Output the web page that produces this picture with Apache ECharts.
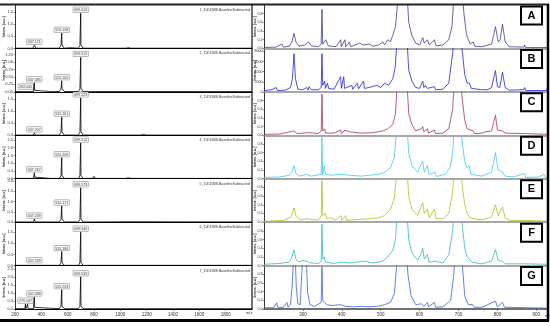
<!DOCTYPE html>
<html><head><meta charset="utf-8">
<script src="https://cdn.jsdelivr.net/npm/echarts@6/dist/echarts.min.js"></script>
<style>html,body{margin:0;padding:0;background:#fff}#c{width:550px;height:326px}</style>
</head><body><div id="c"></div>
<script>
// ---------- LEFT: seven MALDI spectra (m/z vs intensity) ----------
const leftSpec1 = [[200,0.01],[270,0.01],[282,0.04],[290,0.01],[335,0.01],[343,0.08],[347,0.13],[351,0.08],[359,0.01],[470,0.01],[480,0.03],[490,0.01],[537,0.01],[549,0.12],[553,0.15],[555,0.63],[557,0.15],[561,0.12],[573,0.01],[620,0.03],[630,0.01],[681,0.01],[693,0.12],[697,0.15],[699,1.46],[701,0.15],[705,0.12],[717,0.01],[790,0.01],[800,0.06],[810,0.01],[1040,0.01],[1060,0.03],[1080,0.01],[2000,0.01]];
const leftSpec2 = [[200,0.01],[275,0.01],[282,0.06],[289,0.01],[340,0.01],[345,0.05],[347,0.3],[349,0.05],[354,0.01],[470,0.01],[480,0.02],[490,0.01],[537,0.01],[549,0.09],[553,0.12],[555,0.37],[557,0.12],[561,0.09],[573,0.01],[681,0.01],[693,0.09],[697,0.12],[699,1.15],[701,0.12],[705,0.09],[717,0.01],[780,0.01],[790,0.04],[800,0.01],[2000,0.01]];
const leftSpec3 = [[200,0.01],[270,0.01],[282,0.03],[290,0.01],[340,0.01],[345,0.05],[347,0.1],[349,0.05],[354,0.01],[537,0.01],[549,0.12],[553,0.15],[555,0.75],[557,0.15],[561,0.12],[573,0.01],[681,0.01],[693,0.12],[697,0.15],[699,1.55],[701,0.15],[705,0.12],[717,0.01],[790,0.01],[800,0.04],[810,0.01],[1150,0.01],[1180,0.03],[1200,0.01],[2000,0.01]];
const leftSpec4 = [[200,0.02],[270,0.02],[282,0.12],[290,0.02],[340,0.02],[344,0.1],[347,0.38],[350,0.1],[354,0.02],[470,0.02],[480,0.05],[490,0.02],[537,0.02],[549,0.18],[553,0.22],[555,1.35],[557,0.22],[561,0.18],[573,0.02],[681,0.02],[693,0.18],[697,0.22],[699,2.3],[701,0.22],[705,0.18],[717,0.02],[790,0.02],[800,0.15],[810,0.02],[1040,0.02],[1060,0.06],[1080,0.02],[2000,0.02]];
const leftSpec5 = [[200,0.01],[270,0.01],[282,0.04],[290,0.01],[340,0.01],[345,0.06],[347,0.15],[349,0.06],[354,0.01],[470,0.01],[480,0.03],[490,0.01],[537,0.01],[549,0.13],[553,0.16],[555,0.78],[557,0.16],[561,0.13],[573,0.01],[681,0.01],[693,0.13],[697,0.16],[699,1.66],[701,0.16],[705,0.13],[717,0.01],[790,0.01],[800,0.05],[810,0.01],[1060,0.02],[2000,0.01]];
const leftSpec6 = [[200,0.01],[270,0.01],[282,0.03],[290,0.01],[340,0.01],[345,0.04],[347,0.08],[349,0.04],[354,0.01],[537,0.01],[549,0.12],[553,0.15],[555,0.63],[557,0.15],[561,0.12],[573,0.01],[681,0.01],[693,0.12],[697,0.15],[699,1.5],[701,0.15],[705,0.12],[717,0.01],[790,0.01],[800,0.04],[810,0.01],[2000,0.01]];
const leftSpec7 = [[200,0.02],[276,0.02],[279,0.3],[282,0.02],[292,0.02],[296,0.3],[299,0.02],[340,0.02],[345,0.1],[347,0.75],[349,0.1],[354,0.02],[537,0.02],[549,0.17],[553,0.2],[555,1.2],[557,0.2],[561,0.17],[573,0.02],[681,0.02],[693,0.17],[697,0.2],[699,2.0],[701,0.2],[705,0.17],[717,0.02],[790,0.02],[800,0.07],[810,0.02],[2000,0.02]];
const leftSpectra = [leftSpec1,leftSpec2,leftSpec3,leftSpec4,leftSpec5,leftSpec6,leftSpec7];

const leftPeaks1 = [[347,0.13,'347.171'],[555,0.63,'555.158'],[699,1.46,'699.514']];
const leftPeaks2 = [[282,0.06,'282.045'],[347,0.3,'347.085'],[555,0.37,'555.165'],[699,1.15,'699.512']];
const leftPeaks3 = [[347,0.1,'347.207'],[555,0.75,'555.161'],[699,1.55,'699.523']];
const leftPeaks4 = [[347,0.38,'347.267'],[555,1.35,'555.209'],[699,2.3,'699.512']];
const leftPeaks5 = [[347,0.15,'347.209'],[555,0.78,'555.177'],[699,1.66,'699.573']];
const leftPeaks6 = [[347,0.08,'347.269'],[555,0.63,'555.186'],[699,1.5,'699.540']];
const leftPeaks7 = [[279,0.3,'279.147'],[347,0.75,'347.088'],[555,1.2,'555.203'],[699,2.0,'699.533']];
const leftPeaks = [leftPeaks1,leftPeaks2,leftPeaks3,leftPeaks4,leftPeaks5,leftPeaks6,leftPeaks7];

const leftYMax = [1.8,1.45,1.8,2.8,2.1,1.95,2.7];
const leftYInterval = [0.5,0.25,0.5,0.5,0.5,0.5,0.5];
const leftTitles = ['1_1\\4\\1\\MS.BaselineSubtracted','2_1\\4\\1\\MS.BaselineSubtracted','3_1\\4\\1\\MS.BaselineSubtracted','4_1\\4\\1\\MS.BaselineSubtracted','5_1\\4\\1\\MS.BaselineSubtracted','6_1\\4\\1\\MS.BaselineSubtracted','7_1\\4\\1\\MS.BaselineSubtracted'];
const leftXMin = 200, leftXMax = 2000, leftXInterval = 200;

// ---------- RIGHT: zoomed spectra A-G ----------
const rightSpecA = [[200,0.02],[230,0.03],[246,0.1],[250,0.03],[265,0.05],[272,0.15],[277,0.35],[282,0.15],[290,0.05],[305,0.08],[315,0.15],[322,0.06],[340,0.04],[347,0.1],[349,0.9],[351,0.1],[359,0.2],[365,0.06],[385,0.04],[397,0.2],[399,0.04],[408,0.2],[410,0.04],[420,0.15],[422,0.04],[440,0.1],[446,0.12],[455,0.08],[470,0.1],[480,0.05],[495,0.08],[505,0.15],[510,0.08],[518,0.2],[525,0.15],[531,0.3],[538,0.5],[545,1.2],[549,1.5],[556,1.3],[562,1.5],[567,1.4],[572,0.6],[580,0.3],[590,0.12],[600,0.08],[608,0.25],[612,0.12],[620,0.2],[625,0.08],[638,0.2],[642,0.06],[660,0.08],[675,0.2],[683,0.5],[690,1.4],[695,1.5],[701,1.3],[708,1.5],[714,0.8],[720,0.35],[723,0.25],[730,0.1],[738,0.15],[742,0.05],[760,0.04],[785,0.1],[795,0.5],[802,0.15],[807,0.2],[813,0.56],[820,0.15],[830,0.04],[868,0.03],[870,0.08],[872,0.02],[930,0.02]];
const rightSpecB = [[200,260],[220,430],[231,860],[235,260],[255,340],[268,860],[273,2580],[277,7570],[281,2580],[287,520],[300,430],[310,860],[313,340],[316,1030],[322,430],[340,430],[347,860],[349,7570],[351,1290],[356,2150],[358,690],[363,1720],[366,690],[380,520],[397,3010],[399,690],[405,3010],[407,690],[426,1290],[428,520],[440,1720],[443,600],[456,2150],[458,690],[470,860],[490,1290],[500,860],[510,1720],[520,1290],[531,2580],[537,4730],[543,11180],[549,12900],[556,10300],[562,12900],[567,11180],[572,4300],[580,2150],[590,860],[600,690],[608,2150],[611,860],[615,1290],[620,690],[638,1030],[641,430],[660,520],[675,1720],[685,7740],[690,12000],[697,10300],[703,12900],[710,7740],[716,3440],[722,1720],[728,1720],[733,690],[760,430],[775,430],[785,860],[795,4210],[800,1030],[806,860],[813,3870],[820,860],[830,340],[868,430],[870,860],[873,260],[926,260],[928,690],[930,260]];
const rightSpecC = [[200,0.02],[240,0.03],[277,0.1],[285,0.04],[300,0.05],[315,0.06],[340,0.04],[347,0.1],[349,0.95],[351,0.1],[356,0.15],[358,0.05],[380,0.05],[397,0.12],[399,0.04],[408,0.12],[420,0.08],[450,0.05],[480,0.06],[505,0.1],[518,0.15],[531,0.25],[538,0.5],[543,1.3],[549,1.5],[556,1.3],[562,1.5],[567,1.3],[572,0.5],[580,0.25],[590,0.1],[605,0.15],[608,0.2],[611,0.08],[620,0.15],[623,0.05],[638,0.12],[641,0.04],[660,0.05],[675,0.15],[685,0.6],[690,1.4],[697,1.3],[703,1.5],[710,0.8],[716,0.35],[722,0.15],[738,0.1],[741,0.04],[760,0.05],[770,0.08],[785,0.1],[795,0.46],[800,0.12],[813,0.1],[820,0.05],[870,0.04],[930,0.02]];
const rightSpecD = [[200,0.03],[240,0.04],[265,0.08],[272,0.15],[277,0.3],[282,0.12],[290,0.06],[310,0.1],[320,0.06],[347,0.1],[349,0.95],[351,0.1],[355,0.3],[358,0.1],[375,0.08],[397,0.1],[420,0.08],[450,0.06],[470,0.08],[495,0.1],[510,0.15],[525,0.25],[535,0.5],[543,1.3],[549,1.5],[556,1.3],[562,1.5],[567,1.3],[572,0.6],[580,0.3],[595,0.15],[605,0.35],[608,0.4],[612,0.15],[620,0.3],[624,0.1],[640,0.15],[643,0.05],[665,0.1],[678,0.25],[685,0.6],[690,1.4],[697,1.3],[703,1.5],[710,0.8],[716,0.4],[722,0.25],[728,0.3],[732,0.1],[760,0.06],[785,0.15],[795,0.6],[802,0.2],[813,0.15],[820,0.06],[840,0.04],[870,0.12],[873,0.03],[905,0.04],[920,0.1],[923,0.03],[930,0.03]];
const rightSpecE = [[200,0.02],[250,0.04],[270,0.12],[277,0.33],[283,0.12],[295,0.05],[310,0.08],[320,0.06],[340,0.05],[347,0.15],[349,0.95],[351,0.15],[358,0.2],[362,0.08],[370,0.1],[385,0.05],[398,0.15],[400,0.04],[410,0.15],[412,0.04],[440,0.06],[470,0.08],[495,0.1],[510,0.15],[525,0.3],[535,0.55],[543,1.3],[549,1.5],[556,1.3],[562,1.5],[567,1.3],[572,0.6],[580,0.3],[595,0.15],[605,0.4],[608,0.45],[612,0.2],[620,0.3],[625,0.1],[638,0.3],[642,0.08],[660,0.08],[675,0.2],[685,0.7],[690,1.4],[697,1.3],[703,1.5],[710,0.8],[716,0.4],[722,0.2],[730,0.1],[760,0.05],[785,0.12],[795,0.4],[802,0.15],[806,0.12],[813,0.35],[820,0.1],[830,0.04],[870,0.04],[930,0.02]];
const rightSpecF = [[200,0.03],[240,0.05],[265,0.08],[272,0.2],[277,0.36],[282,0.15],[290,0.08],[300,0.12],[310,0.1],[320,0.06],[340,0.05],[347,0.1],[349,0.95],[351,0.15],[355,0.2],[358,0.08],[380,0.05],[397,0.08],[420,0.06],[440,0.08],[460,0.1],[480,0.06],[505,0.1],[518,0.2],[531,0.35],[538,0.6],[543,1.3],[549,1.5],[556,1.3],[562,1.5],[567,1.3],[572,0.6],[580,0.3],[595,0.12],[605,0.3],[608,0.4],[612,0.15],[620,0.25],[624,0.08],[640,0.1],[660,0.06],[675,0.25],[685,0.8],[690,1.4],[697,1.3],[703,1.5],[710,0.9],[716,0.4],[722,0.2],[735,0.08],[760,0.04],[785,0.1],[795,0.37],[802,0.12],[813,0.1],[820,0.04],[870,0.04],[930,0.03]];
const rightSpecG = [[200,0.03],[225,0.03],[233,0.14],[236,0.03],[250,0.04],[259,0.15],[262,0.04],[268,0.1],[273,0.6],[277,1.4],[280,1.3],[283,0.5],[287,0.12],[293,0.1],[297,0.8],[300,1.4],[304,1.2],[308,1.4],[312,0.4],[318,0.1],[330,0.06],[347,0.15],[349,0.97],[351,0.2],[356,0.15],[362,0.1],[375,0.08],[397,0.1],[410,0.06],[430,0.05],[450,0.06],[470,0.05],[490,0.06],[510,0.1],[525,0.15],[535,0.35],[543,1.2],[549,1.5],[556,1.3],[565,1.5],[570,0.8],[578,0.3],[590,0.1],[605,0.12],[608,0.15],[611,0.06],[620,0.15],[623,0.05],[638,0.15],[641,0.04],[660,0.05],[680,0.2],[688,0.8],[692,1.4],[705,1.5],[710,1.0],[716,0.3],[725,0.1],[736,0.1],[740,0.04],[760,0.04],[795,0.18],[800,0.05],[813,0.15],[818,0.04],[870,0.03],[930,0.02]];
const rightSpectra = [rightSpecA,rightSpecB,rightSpecC,rightSpecD,rightSpecE,rightSpecF,rightSpecG];
const rightLetters = ['A','B','C','D','E','F','G'];
const rightColors = ['#3d3d9c','#1f22e6','#a8325f','#3ccaf0','#a2c61e','#2fbdbd','#3462e8'];
const rightYMax = [1,8600,1,1,1,1,1];
const rightYInterval = [0.2,2000,0.2,0.2,0.2,0.2,0.2];
const rightXMin = 200, rightXMax = 930, rightXInterval = 100;

// ---------- layout ----------
const N = 7, TOP = 5, PH = 43.43;
const LL = 15, LW = 237, RL = 264, RW = 284;
const grids = [], xAxes = [], yAxes = [], series = [], graphics = [];
const tickFont = {fontSize: 4, color: '#333', fontFamily: 'Arial, Liberation Sans, sans-serif'};

for (let i = 0; i < N; i++) {
  const top = TOP + i * PH;
  const last = i === N - 1;
  // left
  grids.push({left: LL, top: top, width: LW, height: PH});
  xAxes.push({type: 'value', gridIndex: 2*i, min: leftXMin, max: leftXMax, interval: leftXInterval,
    axisLine: {show: true, lineStyle: {color: '#000', width: 1.2}},
    axisTick: {show: last, length: 2, lineStyle: {color: '#333', width: 0.5}},
    axisLabel: {show: last, ...tickFont, fontSize: 4.5, margin: 3, showMaxLabel: false, formatter: v => String(v)},
    splitLine: {show: false}});
  yAxes.push({type: 'value', gridIndex: 2*i, min: 0, max: leftYMax[i], interval: leftYInterval[i],
    axisLine: {show: true, lineStyle: {color: '#000', width: 0.8}},
    axisTick: {show: true, length: 1.5, lineStyle: {color: '#333', width: 0.5}},
    axisLabel: {...tickFont, margin: 2, showMaxLabel: false,
      formatter: v => leftYInterval[i] < 0.5 ? v.toFixed(2) : v.toFixed(1)},
    splitLine: {show: false}});
  series.push({type: 'line', xAxisIndex: 2*i, yAxisIndex: 2*i, data: leftSpectra[i], showSymbol: false,
    lineStyle: {color: '#000', width: 0.8}, silent: true, clip: true});
  series.push({type: 'scatter', xAxisIndex: 2*i, yAxisIndex: 2*i, data: leftPeaks[i], symbolSize: 0,
    label: {show: true, position: 'top', distance: 1, formatter: p => p.value[2],
      fontSize: 3.6, color: '#222', backgroundColor: '#f2f2f2', borderColor: '#777', borderWidth: 0.5, padding: [1, 1, 0, 1]},
    silent: true});
  graphics.push({type: 'text', right: 550 - 250, top: top + 3,
    style: {text: leftTitles[i], fontSize: 3.6, fill: '#333', fontFamily: 'Arial, sans-serif'}});
  graphics.push({type: 'text', x: 4, y: top + PH / 2, rotation: Math.PI / 2,
    style: {text: 'Intens. [a.u.]', fontSize: 3.5, fontWeight: 'bold', fill: '#333', align: 'center', verticalAlign: 'middle', fontFamily: 'Arial, sans-serif'}});

  // right
  grids.push({left: RL, top: top, width: RW, height: PH});
  xAxes.push({type: 'value', gridIndex: 2*i+1, min: rightXMin, max: rightXMax, interval: rightXInterval,
    axisLine: {show: true, lineStyle: {color: last ? '#444' : '#8a8a8a', width: 1.5}},
    axisTick: {show: last, length: 2, lineStyle: {color: '#333', width: 0.5}},
    axisLabel: {show: last, ...tickFont, fontSize: 4.5, margin: 3, showMaxLabel: false, showMinLabel: false, formatter: v => String(v)},
    splitLine: {show: false}});
  yAxes.push({type: 'value', gridIndex: 2*i+1, min: 0, max: rightYMax[i], interval: rightYInterval[i],
    axisLine: {show: true, lineStyle: {color: '#000', width: 0.8}},
    axisTick: {show: true, length: 1.5, lineStyle: {color: '#333', width: 0.5}},
    axisLabel: {...tickFont, fontSize: 3.6, margin: 1.5, showMaxLabel: false,
      formatter: v => rightYInterval[i] >= 1 ? String(v) : v.toFixed(1)},
    splitLine: {show: false}});
  series.push({type: 'line', xAxisIndex: 2*i+1, yAxisIndex: 2*i+1, data: rightSpectra[i], showSymbol: false,
    lineStyle: {color: rightColors[i], width: 0.8}, silent: true, clip: true});
  graphics.push({type: 'text', x: 255, y: top + PH / 2, rotation: Math.PI / 2,
    style: {text: 'Intens. [a.u.]', fontSize: 3.5, fontWeight: 'bold', fill: '#333', align: 'center', verticalAlign: 'middle', fontFamily: 'Arial, sans-serif'}});
  graphics.push({type: 'rect', shape: {x: 521, y: top + 1.5, width: 21, height: 18},
    style: {fill: '#fff', stroke: '#000', lineWidth: 2}, z: 100});
  graphics.push({type: 'text', x: 531.5, y: top + 10.5, z: 101,
    style: {text: rightLetters[i], fontSize: 11, fontWeight: 'bold', fill: '#000',
      fontFamily: 'Arial, Liberation Sans, sans-serif', align: 'center', verticalAlign: 'middle'}});
}
// frame lines
graphics.push({type: 'line', shape: {x1: 0, y1: 4.5, x2: 549, y2: 4.5}, style: {stroke: '#222', lineWidth: 2}, z: 90});
graphics.push({type: 'line', shape: {x1: 548, y1: 4, x2: 548, y2: 321}, style: {stroke: '#000', lineWidth: 2.5}, z: 90});
graphics.push({type: 'line', shape: {x1: 252, y1: 4, x2: 252, y2: 309.5}, style: {stroke: '#111', lineWidth: 1.2}, z: 90});
graphics.push({type: 'line', shape: {x1: 0, y1: 320.5, x2: 549, y2: 320.5}, style: {stroke: '#000', lineWidth: 3}, z: 90});
graphics.push({type: 'text', x: 246, y: 311, style: {text: 'm/z', fontSize: 4, fill: '#333', fontFamily: 'Arial, sans-serif'}});
graphics.push({type: 'text', x: 545, y: 314, style: {text: 'm/z', fontSize: 4, fill: '#333', fontFamily: 'Arial, sans-serif'}});

const chart = echarts.init(document.getElementById('c'), null, {renderer: 'canvas'});
chart.setOption({animation: false, backgroundColor: '#fff', grid: grids, xAxis: xAxes, yAxis: yAxes, series: series, graphic: graphics});
</script></body></html>
